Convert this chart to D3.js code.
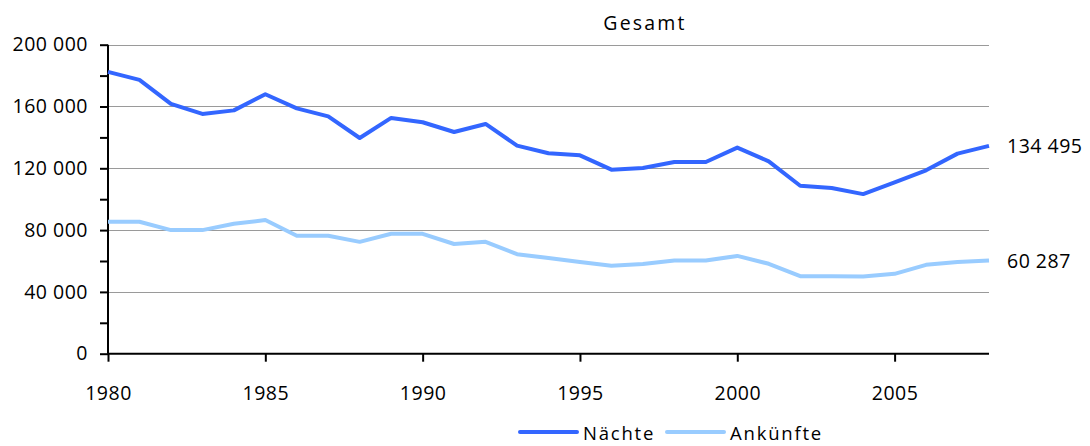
<!DOCTYPE html>
<html>
<head>
<meta charset="utf-8">
<script src="https://cdn.jsdelivr.net/npm/d3@7"></script>
<style>
  body { margin: 0; background: #fff; }
  text { font-family: "Open Sans", sans-serif; font-size: 19.5px; fill: #000; }
</style>
</head>
<body>
<div id="chart"></div>
<script>
// Data
var years = d3.range(1980, 2009);
var naechte = [182400, 177200, 161700, 155200, 157500, 167900, 158800, 153600, 139600, 152600,
               149800, 143500, 148700, 134700, 129700, 128400, 119100, 120200, 124100, 124100,
               133400, 124500, 108700, 107200, 103300, 110900, 118700, 129500, 134495];
var ankuenfte = [85400, 85400, 80000, 80000, 84100, 86500, 76300, 76300, 72400, 77600,
                 77600, 71000, 72400, 64400, 62000, 59300, 56900, 58000, 60300, 60300,
                 63300, 58200, 50200, 50200, 50000, 51700, 57500, 59400, 60287];
var seriesNames = ["Nächte", "Ankünfte"];
var seriesColors = ["#3366ff", "#99ccff"];
var yTicks = d3.range(0, 200001, 20000);
var xTicks = [1980, 1985, 1990, 1995, 2000, 2005];

var W = 1090, H = 446;

// number format with space as thousands separator
var fmt = d3.formatLocale({ decimal: ",", thousands: " ", grouping: [3], currency: ["", ""] }).format(",");

var svg = d3.select('#chart').append('svg')
    .attr("width", W)
    .attr("height", H)

var x = d3.scaleLinear().domain([1980, 2008]).range([108, 989]);
var y = d3.scaleLinear().domain([0, 200000]).range([353.7, 44.7]);

// gridlines
svg.append('g')
    .selectAll('line')
    .data(yTicks.filter(function (d) { return d > 0 && d % 40000 === 0; }))
    .enter().append('line')
        .attr('x1', x(1980))
        .attr('x2', x(2008))
        .attr('y1', function (d) { return Math.round(y(d)) + 0.5; })
        .attr('y2', function (d) { return Math.round(y(d)) + 0.5; })
        .attr('stroke', '#9a9a9a')
        .attr('stroke-width', 1)

// y axis
var yAxis = svg.append('g')
    .attr('transform', 'translate(' + x(1980) + ',0)')
    .call(d3.axisLeft(y)
        .tickValues(yTicks)
        .tickSize(8)
        .tickPadding(12)
        .tickFormat(function (d) { return d % 40000 === 0 ? fmt(d) : ""; }))
yAxis.select('.domain').attr('stroke', '#000').attr('stroke-width', 2).attr('d', 'M0,' + y(200000) + 'V' + y(0))
yAxis.selectAll('.tick line').attr('stroke', '#000').attr('stroke-width', 2)
yAxis.selectAll('text').style('font-family', '"Open Sans", sans-serif').style('font-size', '19.5px')
    .attr('fill', '#000').style('letter-spacing', '0.5px')

// x axis
var xAxis = svg.append('g')
    .attr('transform', 'translate(0,' + y(0) + ')')
    .call(d3.axisBottom(x)
        .tickValues(xTicks)
        .tickSize(8)
        .tickFormat(d3.format('d')))
xAxis.select('.domain').attr('stroke', '#000').attr('stroke-width', 2).attr('d', 'M' + x(1980) + ',0H' + x(2008))
xAxis.selectAll('.tick line').attr('stroke', '#000').attr('stroke-width', 2)
xAxis.selectAll('text').attr('dy', null).attr('y', 46.5)
    .style('font-family', '"Open Sans", sans-serif').style('font-size', '19.5px')
    .attr('fill', '#000').style('letter-spacing', '0.5px')

// lines
var line = d3.line()
    .x(function (d, i) { return x(years[i]); })
    .y(function (d) { return y(d); })

var allSeries = [naechte, ankuenfte];
svg.append('g')
    .selectAll('path')
    .data(allSeries)
    .enter().append('path')
        .attr('d', line)
        .attr('fill', 'none')
        .attr('stroke', function (d, i) { return seriesColors[i]; })
        .attr('stroke-width', 4)
        .attr('stroke-linejoin', 'round')

// end labels
svg.append('g')
    .selectAll('text')
    .data(allSeries)
    .enter().append('text')
        .attr('x', 1007)
        .attr('y', function (d) { return y(d[d.length - 1]) + 7; })
        .style('letter-spacing', '0.5px')
        .text(function (d) { return fmt(d[d.length - 1]); })

// title
svg.append('text')
    .attr('x', 645)
    .attr('y', 30)
    .attr('text-anchor', 'middle')
    .style('letter-spacing', '2.2px')
    .text('Gesamt')

// legend
var legendX = [520, 667];
var legend = svg.append('g')
    .selectAll('g')
    .data(seriesNames)
    .enter().append('g')
        .attr('transform', function (d, i) { return 'translate(' + legendX[i] + ',432)'; })
legend.append('line')
    .attr('x1', 0).attr('x2', 57)
    .attr('stroke', function (d, i) { return seriesColors[i]; })
    .attr('stroke-width', 4)
    .attr('stroke-linecap', 'round')
legend.append('text')
    .attr('x', 63)
    .attr('y', 7.5)
    .style('font-size', '18.5px')
    .style('letter-spacing', '1.8px')
    .text(function (d) { return d; })
</script>
</body>
</html>
